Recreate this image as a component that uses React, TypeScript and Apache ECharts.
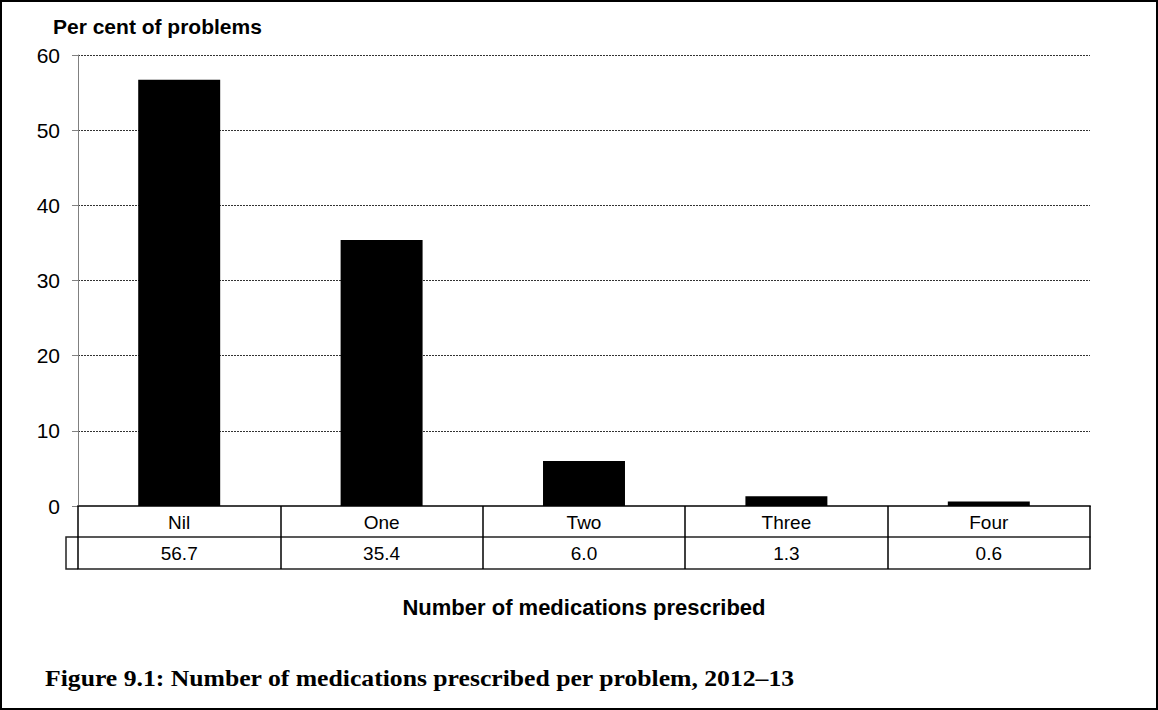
import React, { useEffect, useRef } from "react";
import * as echarts from "echarts";

const categories = ["Nil", "One", "Two", "Three", "Four"];
const percents = [56.7, 35.4, 6.0, 1.3, 0.6];
const yMin = 0;
const yMax = 60;
const yInterval = 10;

const SANS = '"Liberation Sans", Arial, sans-serif';
const SERIF = '"Liberation Serif", "Times New Roman", serif';

export default function App() {
  const ref = useRef<HTMLDivElement>(null);

  useEffect(() => {
    document.body.style.margin = "0";
    if (!ref.current) return;
    const chart = echarts.init(ref.current, undefined, { renderer: "svg" });
    const tableLine = { color: "#222", width: 1.5 };
    const option: any = {
      animation: false,
      backgroundColor: "#fff",
      grid: { left: 78, right: 68, top: 55, bottom: 204, containLabel: false },
      title: [
        {
          text: "Per cent of problems",
          left: 53,
          top: 16,
          padding: 0,
          textStyle: { fontFamily: SANS, fontWeight: "bold", fontSize: 21, color: "#000" },
        },
      ],
      xAxis: [
        {
          type: "category",
          data: categories,
          position: "bottom",
          axisLine: { show: true, lineStyle: { color: "#404040", width: 2 } },
          axisTick: { show: true, inside: false, length: 63, lineStyle: { color: "#000", width: 1.5 } },
          axisLabel: { margin: 7, fontSize: 19, color: "#000", fontFamily: SANS },
          splitLine: { show: false },
        },
        {
          type: "category",
          data: percents.map((v) => v.toFixed(1)),
          position: "bottom",
          offset: 31,
          axisLine: { show: true, lineStyle: tableLine },
          axisTick: { show: false },
          axisLabel: { margin: 7, fontSize: 19, color: "#000", fontFamily: SANS },
          splitLine: { show: false },
        },
        {
          type: "category",
          data: categories,
          position: "bottom",
          offset: 63,
          axisLine: { show: true, lineStyle: tableLine },
          axisTick: { show: false },
          axisLabel: { show: false },
          splitLine: { show: false },
        },
      ],
      yAxis: {
        type: "value",
        min: yMin,
        max: yMax,
        interval: yInterval,
        axisLine: { show: true, lineStyle: { color: "#808080", width: 1 } },
        axisTick: { show: true, length: 6, lineStyle: { color: "#808080" } },
        axisLabel: { margin: 18, fontSize: 21, color: "#000", fontFamily: SANS },
        splitLine: { show: true, lineStyle: { color: "#333", type: [2, 1], width: 1 } },
      },
      series: [
        {
          type: "bar",
          data: percents,
          xAxisIndex: 0,
          barWidth: "40.5%",
          itemStyle: { color: "#000" },
        },
      ],
      graphic: [
        {
          type: "rect",
          shape: { x: 1, y: 1, width: 1156, height: 708 },
          style: { fill: "none", stroke: "#000", lineWidth: 2 },
          silent: true,
        },
        {
          type: "polyline",
          shape: { points: [[78, 537], [66, 537], [66, 569], [78, 569]] },
          style: { fill: "none", stroke: "#222", lineWidth: 1.5 },
          silent: true,
        },
        {
          type: "text",
          x: 584,
          y: 607,
          style: {
            text: "Number of medications prescribed",
            fontFamily: SANS,
            fontWeight: "bold",
            fontSize: 22,
            fill: "#000",
            align: "center",
            verticalAlign: "middle",
          },
        },
        {
          type: "text",
          x: 45,
          y: 678,
          scaleX: 1.07,
          style: {
            text: "Figure 9.1: Number of medications prescribed per problem, 2012\u201313",
            fontFamily: SERIF,
            fontWeight: "bold",
            fontSize: 24,
            fill: "#000",
            align: "left",
            verticalAlign: "middle",
          },
        },
      ],
    };
    chart.setOption(option);
    return () => chart.dispose();
  }, []);

  return <div ref={ref} style={{ width: 1158, height: 710 }} />;
}
